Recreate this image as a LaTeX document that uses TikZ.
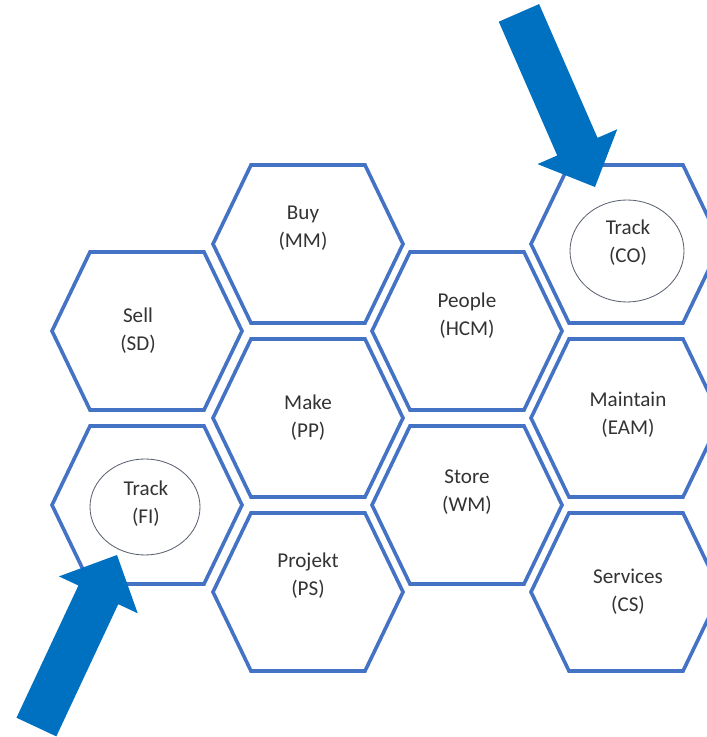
\documentclass[tikz,border=0pt]{standalone}
\usepackage{fontspec}
\setmainfont{Carlito}
\usepackage{xcolor}
\usetikzlibrary{calc, arrows.meta, positioning}
\definecolor{hexblue}{HTML}{4472C4}
\definecolor{arrowblue}{HTML}{0070C0}
\definecolor{labelgrey}{HTML}{333333}
\definecolor{ringgrey}{HTML}{5A6170}

\tikzset{
  hexcell/.pic={\draw[hexblue, line width=0.09cm, line join=miter]
      (-95,0) -- (-57,79) -- (57,79) -- (95,0) -- (57,-79) -- (-57,-79) -- cycle;},
  blockarrow/.pic={\fill[arrowblue]
      (0,0) -- (-44,43.5) -- (-44,22) -- (-190,22) -- (-190,-22) -- (-44,-22) -- (-44,-43.5) -- cycle;},
  module/.style={labelgrey, font=\fontsize{15}{20}\selectfont, align=center},
  ring/.style={ringgrey, line width=0.6pt}
}

\begin{document}
\begin{tikzpicture}[x=0.025cm, y=0.025cm]
        \useasboundingbox (0,0) rectangle (707,737);
        \clip (0,0) rectangle (707,737);
        % honeycomb
        \pic at (147,406) {hexcell};
        \pic at (147,232) {hexcell};
        \pic at (308,493) {hexcell};
        \pic at (308,319) {hexcell};
        \pic at (308,145) {hexcell};
        \pic at (467,406) {hexcell};
        \pic at (467,232) {hexcell};
        \pic at (626,493) {hexcell};
        \pic at (626,319) {hexcell};
        \pic at (626,145) {hexcell};
        % the two tracking rings
        \draw[ring] (627,486) ellipse [x radius=57, y radius=51];
        \draw[ring] (145,230) ellipse [x radius=55, y radius=48];
        \node[module] (sell)     at (138,406) {Sell\\(SD)};
        \node[module] (trackfi)  at (146,233) {Track\\(FI)};
        \node[module] (buy)      at (303,509) {Buy\\(MM)};
        \node[module] (make)     at (308,319) {Make\\(PP)};
        \node[module] (projekt)  at (308,161) {Projekt\\(PS)};
        \node[module] (people)   at (467,421) {People\\(HCM)};
        \node[module] (store)    at (467,245) {Store\\(WM)};
        \node[module] (trackco)  at (628,494) {Track\\(CO)};
        \node[module] (maintain) at (628,322) {Maintain\\(EAM)};
        \node[module] (services) at (628,145) {Services\\(CS)};
        % pointers
        \coordinate (cotip) at (595,550);
        \coordinate (fitip) at (117,182);
        \pic[rotate=-66.4] at (cotip) {blockarrow};
        \pic[rotate=64.9]  at (fitip) {blockarrow};
      \end{tikzpicture}
\end{document}
